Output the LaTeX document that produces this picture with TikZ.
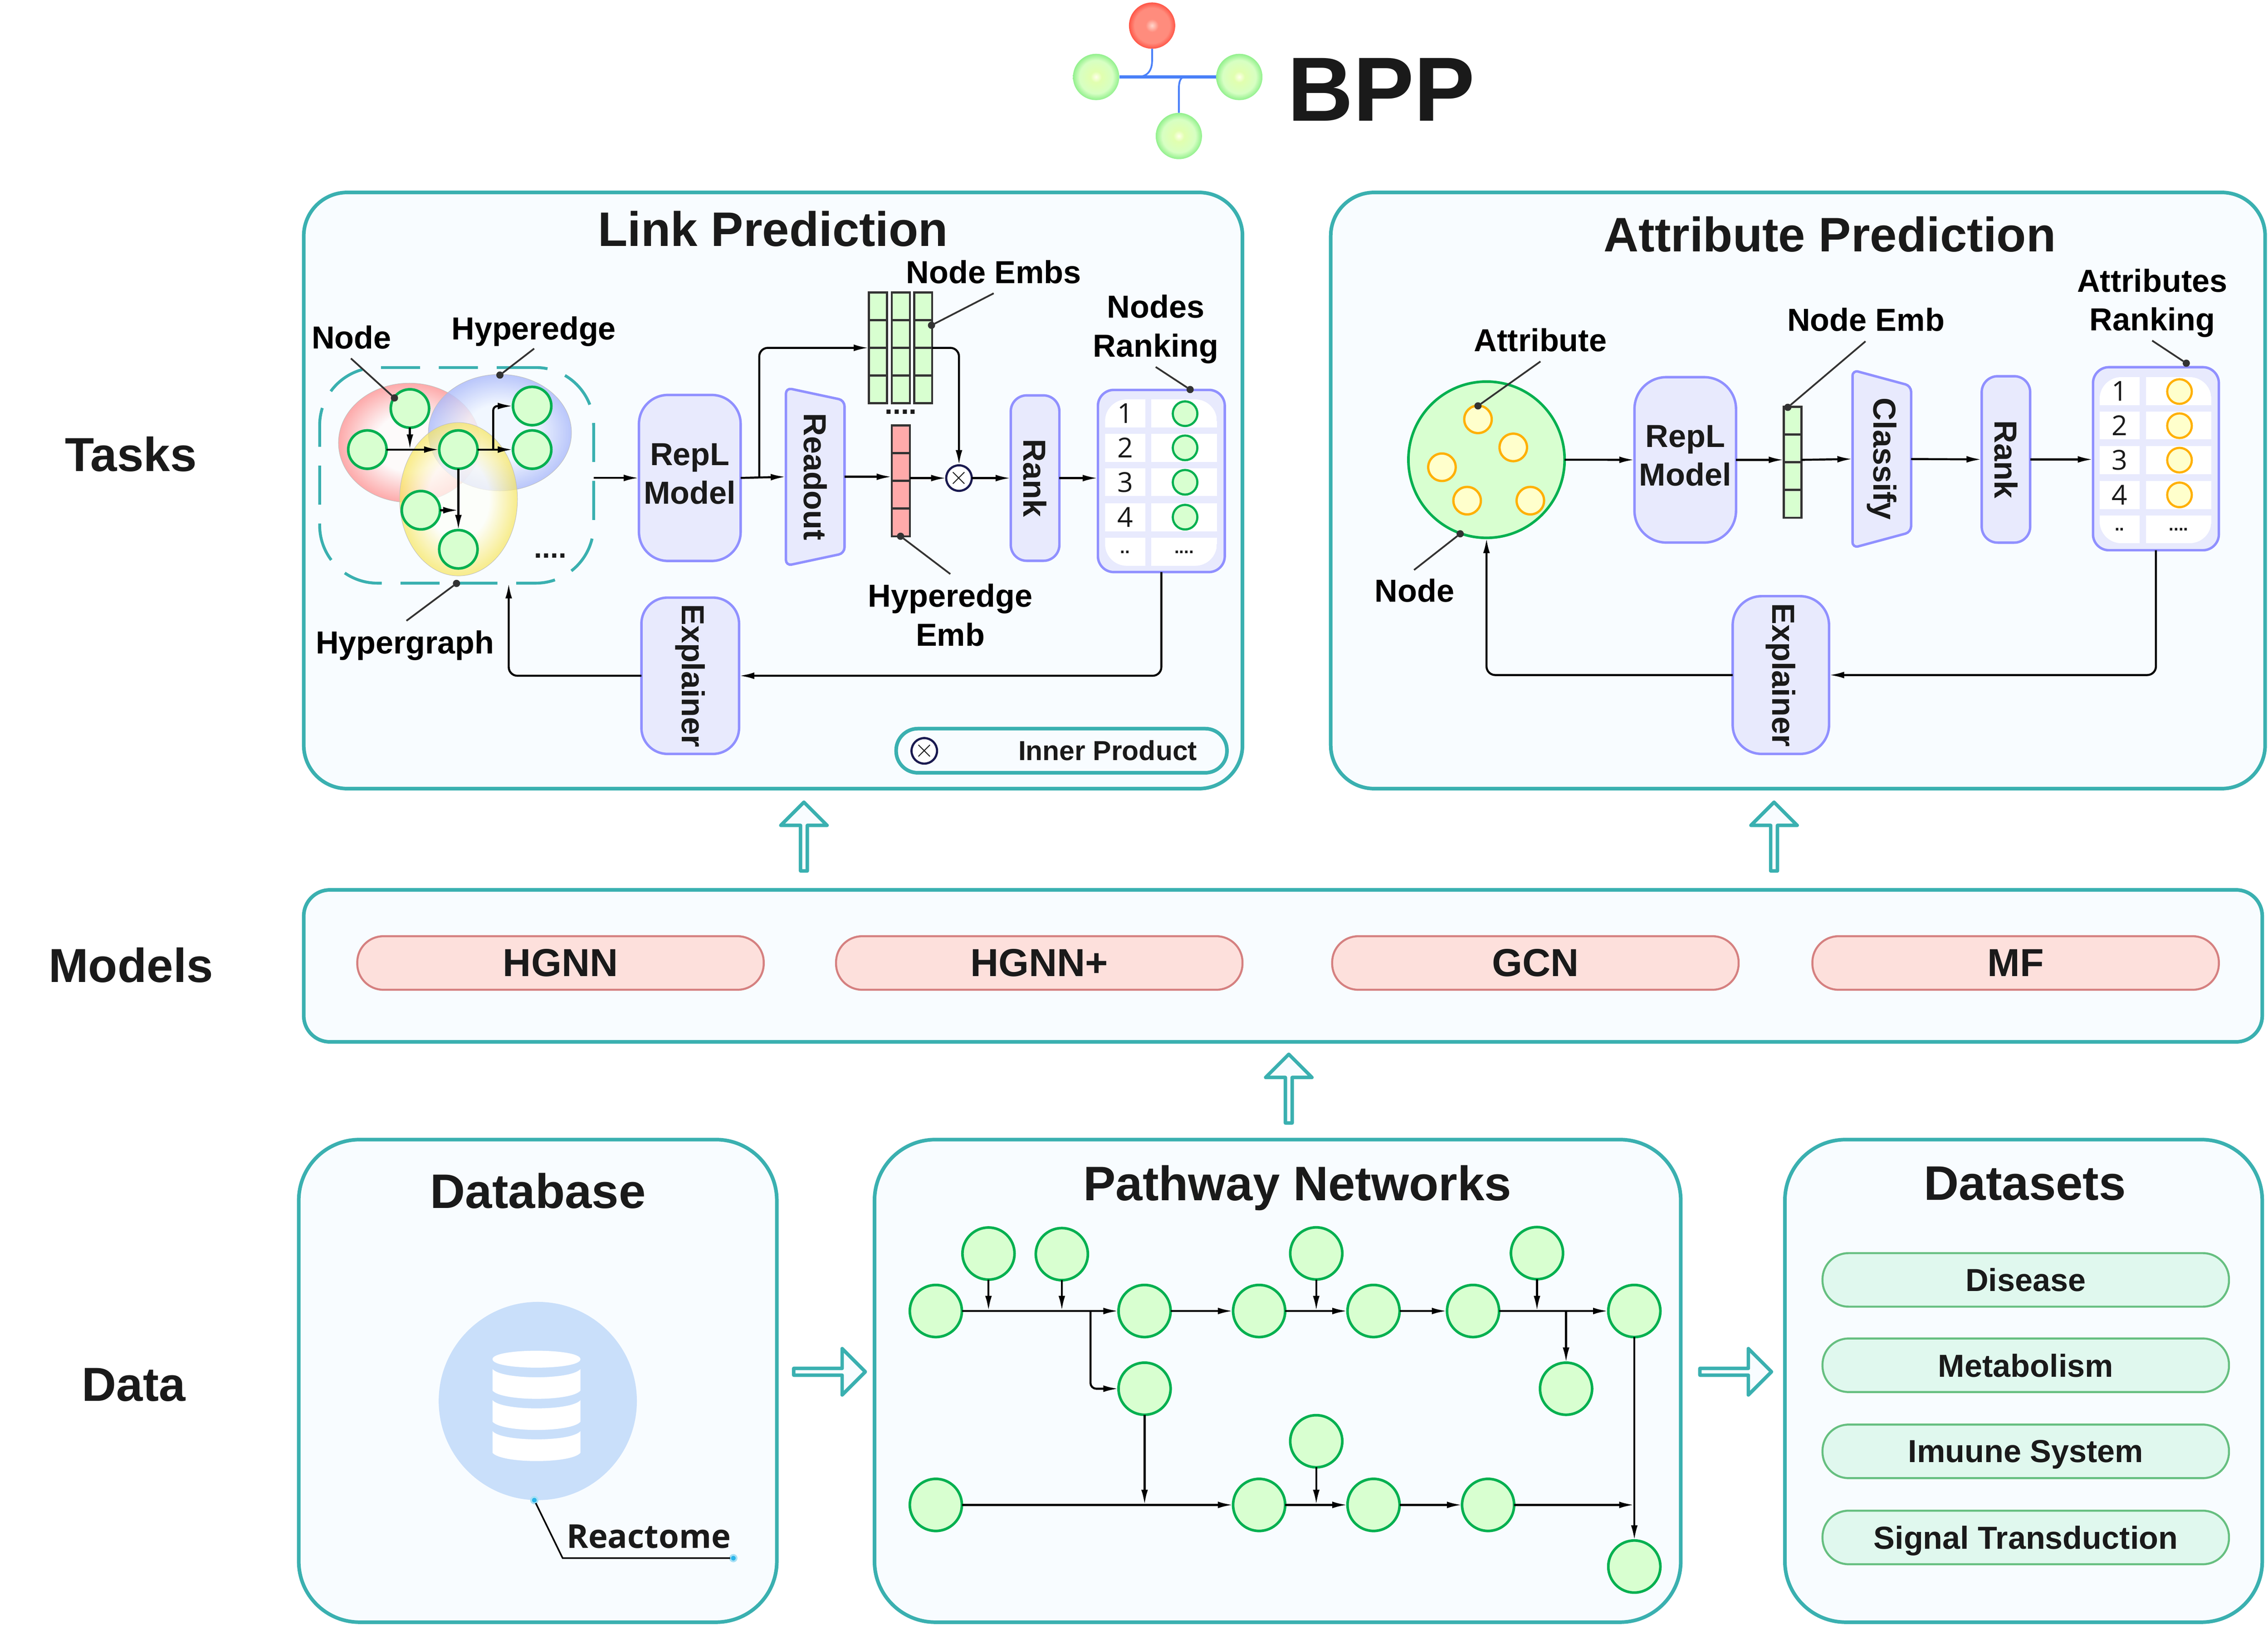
\documentclass[tikz,border=0pt]{standalone}
\usepackage{fontspec}
\setmainfont{Liberation Sans}
\newfontfamily\uifont{Open Sans}
\usetikzlibrary{arrows.meta,shapes.geometric,shapes.arrows}

\definecolor{tealline}{HTML}{3AB0B0}
\definecolor{panelbg}{HTML}{F8FCFF}
\definecolor{boxbg}{HTML}{E8EAFD}
\definecolor{boxline}{HTML}{9090FF}
\definecolor{nodebg}{HTML}{D8FFD0}
\definecolor{nodeline}{HTML}{00B050}
\definecolor{attrbg}{HTML}{FFFFCC}
\definecolor{attrline}{HTML}{FFB000}
\definecolor{ink}{HTML}{1A1A1A}
\definecolor{leaderink}{HTML}{333333}
\definecolor{logoblue}{HTML}{4A80F8}
\definecolor{discblue}{HTML}{C9DFFA}
\definecolor{pillredbg}{HTML}{FDE0DC}
\definecolor{pillredline}{HTML}{D58080}
\definecolor{pillgreenbg}{HTML}{E0F8EE}
\definecolor{pillgreenline}{HTML}{66BF80}
\definecolor{embred}{HTML}{FFAAAA}
\definecolor{prodink}{HTML}{1A1A50}
\definecolor{webcyan}{HTML}{2AB5EA}
\definecolor{webhalo}{HTML}{A8E0F5}
\definecolor{hrededge}{HTML}{FF9C9C}
\definecolor{hrcenter}{HTML}{FFFAFA}
\definecolor{hbedge}{HTML}{AAB9FA}
\definecolor{hbcenter}{HTML}{F0F6FF}
\definecolor{hyedge}{HTML}{F8E65A}
\definecolor{hycenter}{HTML}{FFFFF8}
\definecolor{lr0}{HTML}{FFD7CD}
\definecolor{lr1}{HTML}{FF8C7D}
\definecolor{lr2}{HTML}{FF5546}
\definecolor{lg0}{HTML}{FFFFEB}
\definecolor{lg1}{HTML}{E1FFAF}
\definecolor{lg2}{HTML}{D7FFC3}
\definecolor{lg3}{HTML}{91F08C}

\pgfdeclareradialshading{hyperred}{\pgfpoint{0bp}{0bp}}{color(0bp)=(hrcenter); color(12bp)=(hrcenter); color(25bp)=(hrededge); color(50bp)=(hrededge)}
\pgfdeclareradialshading{hyperblue}{\pgfpoint{0bp}{0bp}}{color(0bp)=(hbcenter); color(12bp)=(hbcenter); color(25bp)=(hbedge); color(50bp)=(hbedge)}
\pgfdeclareradialshading{hyperyellow}{\pgfpoint{0bp}{0bp}}{color(0bp)=(hycenter); color(13bp)=(hycenter); color(25bp)=(hyedge); color(50bp)=(hyedge)}
\pgfdeclareradialshading{logored}{\pgfpoint{0bp}{0bp}}{color(0bp)=(lr0); color(7bp)=(lr1); color(19bp)=(lr1); color(25bp)=(lr2); color(50bp)=(lr2)}
\pgfdeclareradialshading{logogreen}{\pgfpoint{0bp}{0bp}}{color(0bp)=(lg0); color(6bp)=(lg1); color(18bp)=(lg2); color(25bp)=(lg3); color(50bp)=(lg3)}

\begin{document}
\begin{tikzpicture}
  [x=1pt,y=-1pt,every node/.style={outer sep=0,inner sep=0,text=ink},
   panel/.style={draw=tealline,fill=panelbg,line width=2.5,rounded corners=30},
   headtext/.style={font=\fontsize{33.5}{40}\selectfont\bfseries},
   sidetext/.style={font=\fontsize{33}{40}\selectfont\bfseries},
   tagtext/.style={font=\fontsize{22}{26.8}\selectfont\bfseries,align=center,text=black},
   dotstext/.style={font=\fontsize{20}{24}\selectfont\bfseries},
   boxstep/.style={draw=boxline,fill=boxbg,line width=1.7,rounded corners=#1,font=\fontsize{22}{26.8}\selectfont\bfseries,align=center},
   slant/.style={draw=boxline,fill=boxbg,line width=1.7,rounded corners=4,trapezium,trapezium angle=66,trapezium stretches=true,minimum width=123,minimum height=40.5,font=\fontsize{22}{26.8}\selectfont\bfseries},
   pnode/.style={circle,draw=nodeline,fill=nodebg,line width=#1},
   pnode/.default=1.8,
   bignode/.style={pnode,minimum size=36},
   midnode/.style={pnode,minimum size=26.5},
   smallnode/.style={pnode=1.5,minimum size=17},
   attr/.style={circle,draw=attrline,fill=attrbg,line width=1.6,minimum size=19},
   smallattr/.style={circle,draw=attrline,fill=attrbg,line width=1.5,minimum size=17},
   embgreen/.style={draw=leaderink,fill=nodebg,line width=1.5,minimum width=12.5,minimum height=19.17},
   embpink/.style={draw=leaderink,fill=embred,line width=1.5,minimum width=12.5,minimum height=19.17},
   flow/.style={-{Latex[length=10.5pt,width=4.6pt]},line width=1.4,black},
   leader/.style={draw=leaderink,line width=1.2},
   dotmark/.style={circle,fill=leaderink,minimum size=5},
   webdot/.style={circle,fill=webcyan,draw=webhalo,line width=1.2,minimum size=4.5},
   tablebox/.style={draw=boxline,fill=boxbg,line width=1.7,rounded corners=11},
   cellnum/.style={fill=white,minimum width=27.7,minimum height=19.4,font=\uifont\fontsize{19}{23}\selectfont},
   cellwide/.style={fill=white,minimum width=45.4,minimum height=19.4,font=\fontsize{12}{14}\selectfont\bfseries},
   pillred/.style={draw=pillredline,fill=pillredbg,line width=1.4,rounded corners=18,minimum width=281,minimum height=37,font=\fontsize{27}{32}\selectfont\bfseries},
   pillgreen/.style={draw=pillgreenline,fill=pillgreenbg,line width=1.4,rounded corners=18,minimum width=281,minimum height=37,text depth=0pt,font=\fontsize{22}{26}\selectfont\bfseries},
   hollow/.style={single arrow,draw=tealline,fill=panelbg,line width=2.4,line join=round,minimum height=47.5,minimum width=32,single arrow head extend=7},
   prodmark/.style={circle,draw=prodink,fill=white,line width=1.5,minimum size=17.5,font=\fontsize{19}{19}\selectfont}]

  \useasboundingbox (0,0) rectangle (1568,1122.9);

  % logo
  \node[circle,minimum size=32,shading=logored] (lr) at (796.5,17.7) {};
  \node[circle,minimum size=32,shading=logogreen] (ll) at (757.8,53.2) {};
  \node[circle,minimum size=32,shading=logogreen] (lm) at (856.8,53.2) {};
  \node[circle,minimum size=32,shading=logogreen] (lb) at (815,94) {};
  \draw[logoblue,line width=2] (ll.east) -- (lm.west);
  \draw[logoblue,line width=1.2] (lr.south) -- (796.5,42) .. controls (796.5,49) and (793,53) .. (787,53);
  \draw[logoblue,line width=1.2] (lb.north) -- (815,62) .. controls (815,56) and (816,53) .. (820,53);
  \node[font=\fontsize{63}{70}\selectfont\bfseries] (bpp) at (955,62) {BPP};

  % side labels
  \node[sidetext] (tasks) at (90.5,314) {Tasks};
  \node[sidetext] (models) at (90.5,667) {Models};
  \node[sidetext] (data) at (92.5,957) {Data};

  % panels
  \node[panel,minimum width=649,minimum height=412] (link) at (534.5,339) {};
  \node[panel,minimum width=646,minimum height=412] (attrib) at (1243,339) {};
  \node[panel,rounded corners=18,minimum width=1354,minimum height=105] (mods) at (887,667.5) {};
  \node[panel,rounded corners=42,minimum width=330.5,minimum height=333.5] (dbase) at (371.8,954.3) {};
  \node[panel,rounded corners=42,minimum width=557.4,minimum height=333.5] (pathw) at (883.3,954.3) {};
  \node[panel,rounded corners=42,minimum width=330,minimum height=333.5] (dsets) at (1399,954.3) {};

  \node[headtext] (t1) at (534.5,158) {Link Prediction};
  \node[headtext] (t2) at (1265,162) {Attribute Prediction};
  \node[headtext] (t3) at (372,823) {Database};
  \node[headtext] (t4) at (897,821) {Pathway Networks};
  \node[headtext] (t5) at (1400,818) {Datasets};

  % hollow arrows between the panels
  \node[hollow,rotate=90] (up1) at (555.8,579.3) {};
  \node[hollow,rotate=90] (up2) at (1226.5,579.3) {};
  \node[hollow,rotate=90] (up3) at (891,753.5) {};
  \node[hollow,minimum height=49.5] (right1) at (572.3,948) {};
  \node[hollow,minimum height=49.5] (right2) at (1198.8,948) {};

  % models
  \node[pillred] (m1) at (387.5,665.5) {HGNN};
  \node[pillred] (m2) at (718.5,665.5) {HGNN+};
  \node[pillred] (m3) at (1061.5,665.5) {GCN};
  \node[pillred] (m4) at (1393.5,665.5) {MF};

  % datasets
  \node[pillgreen] (s1) at (1400.5,884.5) {Disease};
  \node[pillgreen] (s2) at (1400.5,943.5) {Metabolism};
  \node[pillgreen] (s3) at (1400.5,1003) {Imuune System};
  \node[pillgreen] (s4) at (1400.5,1062.5) {Signal Transduction};

  % hypergraph
  \node[draw=tealline,line width=2,dash pattern=on 27pt off 13pt,rounded corners=40,minimum width=189.4,minimum height=149] (hyper) at (315.7,328.5) {};
  \node[ellipse,minimum width=98,minimum height=82.5,shading=hyperred,draw=gray!50,line width=.3,fill opacity=.85] (he1) at (283,306) {};
  \node[ellipse,minimum width=99,minimum height=80.5,shading=hyperblue,draw=gray!50,line width=.3,fill opacity=.8] (he2) at (345.6,299) {};
  \node[ellipse,minimum width=81.5,minimum height=106,shading=hyperyellow,draw=gray!50,line width=.3,fill opacity=.7] (he3) at (317,345) {};
  \node[midnode] (n1) at (283.4,282.3) {};
  \node[midnode] (n2) at (254,310.7) {};
  \node[midnode] (n3) at (316.9,310.7) {};
  \node[midnode] (n4) at (367.9,280.6) {};
  \node[midnode] (n5) at (367.9,310.7) {};
  \node[midnode] (n6) at (291,352.6) {};
  \node[midnode] (n7) at (316.9,379.6) {};
  \node[dotstext] (hdots) at (380.5,384) {....};

  \draw[flow] (n1) -- (n1 |- n2);
  \draw[flow] (n2) -- (n3);
  \draw[flow] (n3) -- (n5);
  \draw[flow,rounded corners=3] (341,310.7) |- (n4.west);
  \draw[flow] (n3) -- (n7);
  \draw[flow] (n6) -- (n6 -| n7);

  % link prediction pipeline
  \node[boxstep=20,minimum width=70.3,minimum height=114.7,text depth=6pt] (repl1) at (476.9,330.3) {RepL\\Model};
  \node[slant,rotate=-90] (readout) at (563.6,329.5) {Readout};
  \node[embgreen] (e11) at (607,211.6) {};
  \node[embgreen] (e12) at (607,230.8) {};
  \node[embgreen] (e13) at (607,249.9) {};
  \node[embgreen] (e14) at (607,269.1) {};
  \node[embgreen] (e21) at (622.8,211.6) {};
  \node[embgreen] (e22) at (622.8,230.8) {};
  \node[embgreen] (e23) at (622.8,249.9) {};
  \node[embgreen] (e24) at (622.8,269.1) {};
  \node[embgreen] (e31) at (638.2,211.6) {};
  \node[embgreen] (e32) at (638.2,230.8) {};
  \node[embgreen] (e33) at (638.2,249.9) {};
  \node[embgreen] (e34) at (638.2,269.1) {};
  \node[dotstext] (edots) at (622.8,284.6) {....};
  \node[embpink] (h1) at (622.8,303.6) {};
  \node[embpink] (h2) at (622.8,322.8) {};
  \node[embpink] (h3) at (622.8,341.9) {};
  \node[embpink] (h4) at (622.8,361.1) {};
  \node[prodmark] (prod) at (663,330.4) {$\times$};
  \node[boxstep=11,rotate=-90,minimum width=114.3,minimum height=33.6] (rank1) at (715.6,330.4) {Rank};
  \node[tablebox,minimum width=87.7,minimum height=125.9] (tab1) at (802.9,332.4) {};
  \begin{scope}
    \clip[rounded corners=15] (764,276) rectangle (841.3,391);
    \node[cellnum] (c11) at (777.9,285.7) {1};
    \node[cellnum] (c12) at (777.9,309.4) {2};
    \node[cellnum] (c13) at (777.9,333.2) {3};
    \node[cellnum] (c14) at (777.9,357.4) {4};
    \node[cellnum,font=\fontsize{12}{14}\selectfont\bfseries] (c15) at (777.9,381.4) {..};
    \node[cellwide] (c21) at (818.6,285.7) {};
    \node[cellwide] (c22) at (818.6,309.4) {};
    \node[cellwide] (c23) at (818.6,333.2) {};
    \node[cellwide] (c24) at (818.6,357.4) {};
    \node[cellwide] (c25) at (818.6,381.4) {....};
  \end{scope}
  \node[smallnode] (g1) at (819.3,285.9) {};
  \node[smallnode] (g2) at (819.3,309.5) {};
  \node[smallnode] (g3) at (819.3,333.3) {};
  \node[smallnode] (g4) at (819.3,357.4) {};
  \node[boxstep=18,rotate=-90,minimum width=108,minimum height=67.5] (expl1) at (477.2,467) {Explainer};
  \node[draw=tealline,line width=2.5,rounded corners=15,minimum width=228.7,minimum height=30.5] (legend) at (733.9,518.8) {};
  \node[prodmark] (prod2) at (639,518.9) {$\times$};
  \node[font=\fontsize{19}{24}\selectfont\bfseries] (ltext) at (765.8,518.5) {Inner Product};
  \coordinate (jn1) at (524.9,330.3);

  \draw[flow] (hyper.east |- repl1.west) -- (repl1.west);
  \draw[flow] (repl1.east) -- (readout.south);
  \draw[flow,rounded corners=6] (jn1) |- (e12.south west);
  \draw[flow] (readout.north) -- (readout.north -| h2.west);
  \draw[flow] (h2.east |- prod.west) -- (prod.west);
  \draw[flow,rounded corners=6] (e32.south east) -| (prod.north);
  \draw[flow] (prod.east) -- (rank1.south);
  \draw[flow] (rank1.north) -- (rank1.north -| tab1.west);
  \draw[flow,rounded corners=6] (tab1.south) |- (expl1.north);
  \draw[flow,rounded corners=6] (expl1.south) -| ([xshift=36pt]hyper.south);

  % link prediction labels
  \node[tagtext] (lnode) at (243,233) {Node};
  \node[tagtext] (lhedge) at (369,229) {Hyperedge};
  \node[tagtext] (lgraph) at (280,446) {Hypergraph};
  \node[tagtext] (lembs) at (687,188) {Node Embs};
  \node[tagtext] (lrank) at (799,227.5) {Nodes\\Ranking};
  \node[tagtext] (lhemb) at (657,425) {Hyperedge\\Emb};
  \node[dotmark] (d1) at (272.7,275) {};
  \node[dotmark] (d2) at (345.6,259.2) {};
  \node[dotmark] (d3) at (315.6,403.2) {};
  \node[dotmark] (d4) at (644,224.8) {};
  \node[dotmark] (d5) at (822.8,269.2) {};
  \node[dotmark] (d6) at (622.6,370.6) {};
  \coordinate (f1) at (242.6,247.7);
  \coordinate (f2) at (369.3,240.9);
  \coordinate (f3) at (281,429);
  \coordinate (f4) at (687,202.7);
  \coordinate (f5) at (799,253.6);
  \coordinate (f6) at (657,396.7);
  \draw[leader] (f1) -- (d1);
  \draw[leader] (f2) -- (d2);
  \draw[leader] (f3) -- (d3);
  \draw[leader] (f4) -- (d4);
  \draw[leader] (f5) -- (d5);
  \draw[leader] (f6) -- (d6);

  % attribute prediction pipeline
  \node[pnode=1.8,minimum size=108] (big) at (1027.7,317.7) {};
  \node[attr] (a1) at (1021.8,289.8) {};
  \node[attr] (a2) at (1046.2,309.2) {};
  \node[attr] (a3) at (996.9,322.9) {};
  \node[attr] (a4) at (1014.3,346) {};
  \node[attr] (a5) at (1058,346) {};
  \node[boxstep=22,minimum width=70.2,minimum height=114.3,text depth=6pt] (repl2) at (1165.1,317.8) {RepL\\Model};
  \node[embgreen,minimum width=12.2] (ae1) at (1239.4,290.8) {};
  \node[embgreen,minimum width=12.2] (ae2) at (1239.4,310) {};
  \node[embgreen,minimum width=12.2] (ae3) at (1239.4,329) {};
  \node[embgreen,minimum width=12.2] (ae4) at (1239.4,348.2) {};
  \node[slant,rotate=-90] (classify) at (1301,317.2) {Classify};
  \node[boxstep=11,rotate=-90,minimum width=115,minimum height=33.5] (rank2) at (1386.8,317.5) {Rank};
  \node[tablebox,minimum width=87,minimum height=126.5] (tab2) at (1490.5,317) {};
  \begin{scope}
    \clip[rounded corners=15] (1451.6,260.6) rectangle (1528.8,375.4);
    \node[cellnum] (k11) at (1465.4,270.3) {1};
    \node[cellnum] (k12) at (1465.4,294) {2};
    \node[cellnum] (k13) at (1465.4,317.9) {3};
    \node[cellnum] (k14) at (1465.4,342.1) {4};
    \node[cellnum,font=\fontsize{12}{14}\selectfont\bfseries] (k15) at (1465.4,365.8) {..};
    \node[cellwide] (k21) at (1506.2,270.3) {};
    \node[cellwide] (k22) at (1506.2,294) {};
    \node[cellwide] (k23) at (1506.2,317.9) {};
    \node[cellwide] (k24) at (1506.2,342.1) {};
    \node[cellwide] (k25) at (1506.2,365.8) {....};
  \end{scope}
  \node[smallattr] (y1) at (1506.8,270.6) {};
  \node[smallattr] (y2) at (1506.8,294.2) {};
  \node[smallattr] (y3) at (1506.8,318) {};
  \node[smallattr] (y4) at (1506.8,342) {};
  \node[boxstep=20,rotate=-90,minimum width=109,minimum height=66.6] (expl2) at (1231.2,466.5) {Explainer};

  \draw[flow] (big.east) -- (repl2.west);
  \draw[flow] (repl2.east) -- (repl2.east -| ae2.west);
  \draw[flow] (ae2.east |- repl2.east) -- (classify.south);
  \draw[flow] (classify.north) -- (rank2.south);
  \draw[flow] (rank2.north) -- (rank2.north -| tab2.west);
  \draw[flow,rounded corners=6] (tab2.south) |- (expl2.north);
  \draw[flow,rounded corners=6] (expl2.south) -| (big.south);

  % attribute prediction labels
  \node[tagtext] (lattr) at (1065,235) {Attribute};
  \node[tagtext] (lnemb) at (1290,221) {Node Emb};
  \node[tagtext] (lattrs) at (1488,209.5) {Attributes\\Ranking};
  \node[tagtext] (lnode2) at (978,408) {Node};
  \node[dotmark] (d7) at (1021.8,280.5) {};
  \node[dotmark] (d8) at (1236,281.5) {};
  \node[dotmark] (d9) at (1511.5,251) {};
  \node[dotmark] (d10) at (1009.5,368.9) {};
  \coordinate (f7) at (1065,249.8);
  \coordinate (f8) at (1289.7,235.9);
  \coordinate (f9) at (1487.9,235.4);
  \coordinate (f10) at (977.6,393.9);
  \draw[leader] (f7) -- (d7);
  \draw[leader] (f8) -- (d8);
  \draw[leader] (f9) -- (d9);
  \draw[leader] (f10) -- (d10);

  % database
  \node[circle,fill=discblue,minimum size=137] (disc) at (371.8,968.2) {};
  \fill[white] (340.5,939.3) .. controls (340.5,931.5) and (401.3,931.5) .. (401.3,939.3) .. controls (401.3,947.1) and (340.5,947.1) .. (340.5,939.3) -- cycle;
  \fill[white] (340.5,946.1) .. controls (347,953.7) and (395,953.7) .. (401.3,946.1) -- (401.3,961) .. controls (395,968.6) and (347,968.6) .. (340.5,961) -- cycle;
  \fill[white] (340.5,967.6) .. controls (347,975.2) and (395,975.2) .. (401.3,967.6) -- (401.3,982.5) .. controls (395,990.1) and (347,990.1) .. (340.5,982.5) -- cycle;
  \fill[white] (340.5,989) .. controls (347,996.6) and (395,996.6) .. (401.3,989) -- (401.3,1004) .. controls (395,1011.6) and (347,1011.6) .. (340.5,1004) -- cycle;
  \node[webdot] (w1) at (369.4,1036.7) {};
  \node[webdot] (w2) at (507,1076.8) {};
  \coordinate (bend) at (389,1076.8);
  \draw[black,line width=1.1] (w1) -- (bend) -- (w2);
  \node[font=\uifont\bfseries\fontsize{22.7}{28}\selectfont] (react) at (448.5,1062) {Reactome};

  % pathway network
  \node[bignode] (p1) at (647,906) {};
  \node[bignode] (p2) at (683.4,866.3) {};
  \node[bignode] (p3) at (734.1,866.7) {};
  \node[bignode] (p4) at (791.3,906) {};
  \node[bignode] (p5) at (870.5,906) {};
  \node[bignode] (p6) at (910,866.2) {};
  \node[bignode] (p7) at (949.6,906) {};
  \node[bignode] (p8) at (1018.4,906) {};
  \node[bignode] (p9) at (1062.6,866) {};
  \node[bignode] (p10) at (1129.9,906) {};
  \node[bignode] (p11) at (791.3,959.7) {};
  \node[bignode] (p12) at (1082.7,959.7) {};
  \node[bignode] (p13) at (910,996) {};
  \node[bignode] (p14) at (647,1040) {};
  \node[bignode] (p15) at (870.5,1040) {};
  \node[bignode] (p16) at (949.6,1040) {};
  \node[bignode] (p17) at (1028.8,1040) {};
  \node[bignode] (p18) at (1129.9,1082.6) {};

  \draw[flow] (p1) -- (p4);
  \draw[flow] (p2) -- (p2 |- p1);
  \draw[flow] (p3) -- (p3 |- p1);
  \draw[flow] (p4) -- (p5);
  \draw[flow] (p5) -- (p7);
  \draw[flow] (p6) -- (p6 |- p5);
  \draw[flow] (p7) -- (p8);
  \draw[flow] (p8) -- (p10);
  \draw[flow] (p9) -- (p9 |- p8);
  \draw[flow] (p12 |- p8) -- (p12);
  \draw[flow,rounded corners=4] (753.9,906) |- (p11);
  \draw[flow] (p11) -- (p11 |- p14);
  \draw[flow] (p14) -- (p15);
  \draw[flow] (p13) -- (p13 |- p15);
  \draw[flow] (p15) -- (p16);
  \draw[flow] (p16) -- (p17);
  \draw[flow] (p17) -- (p17 -| p10);
  \draw[flow] (p10) -- (p18);
\end{tikzpicture}
\end{document}
